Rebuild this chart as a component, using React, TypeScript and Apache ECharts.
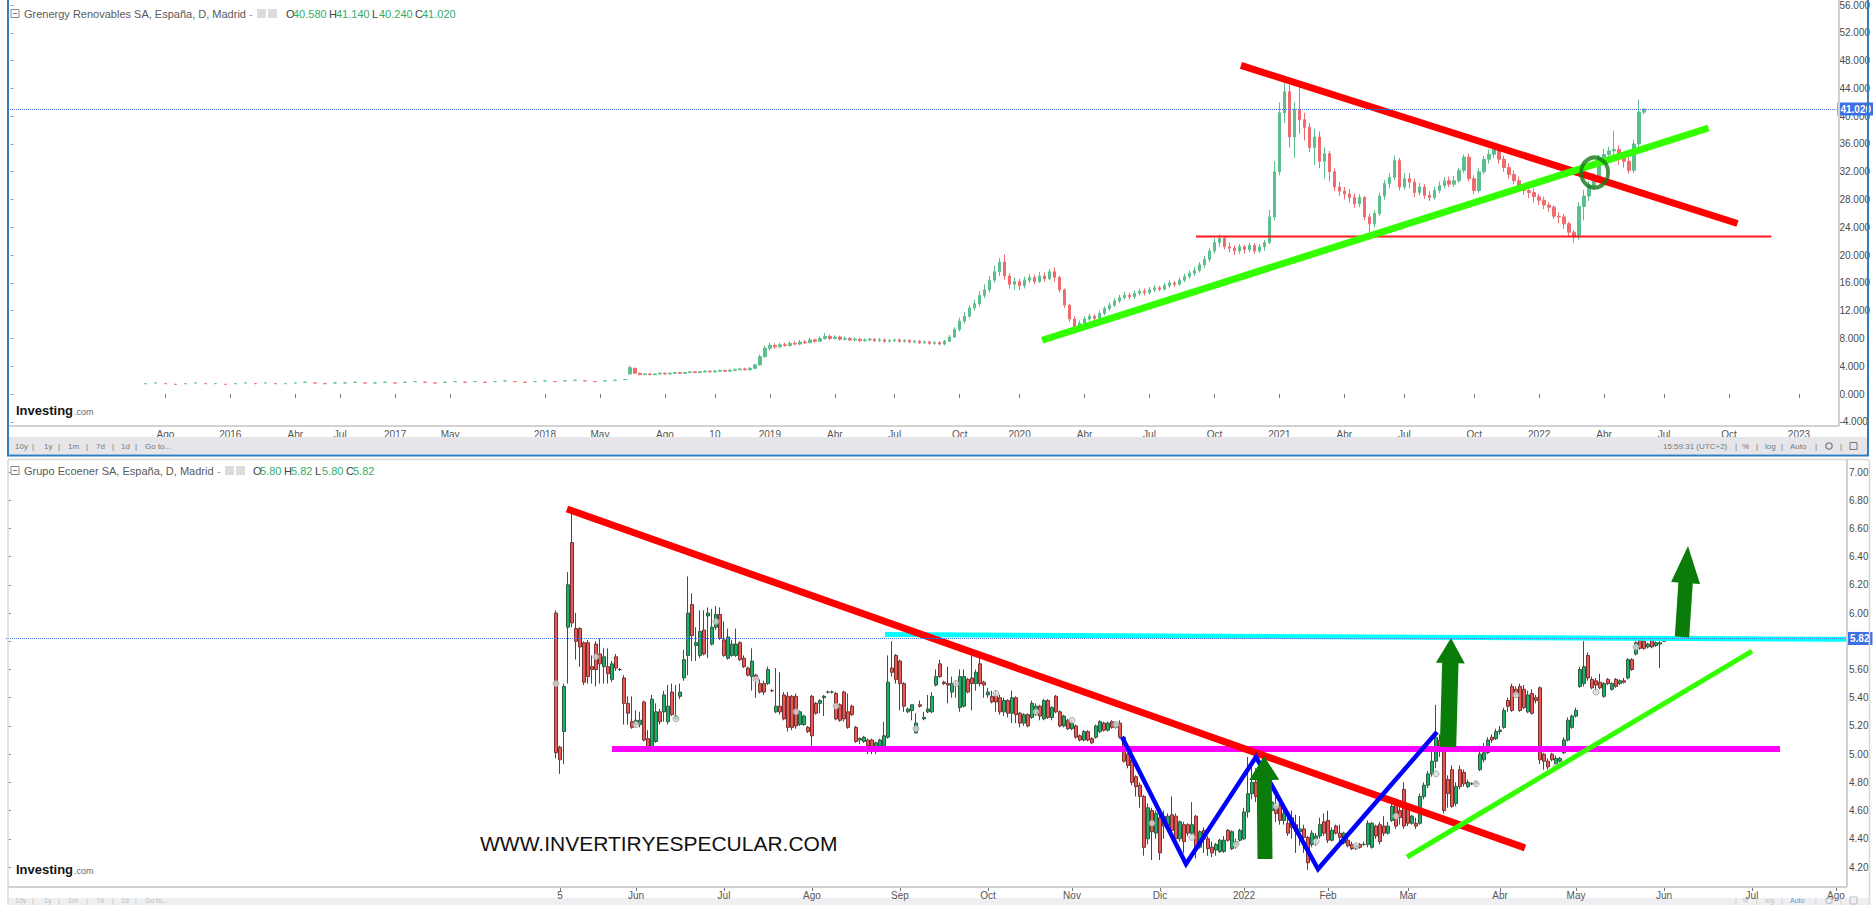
import React, { useEffect, useRef } from 'react';
import * as echarts from 'echarts';

const FONT = "'Liberation Sans', Arial, Helvetica, sans-serif";

// ================= TOP PANEL : Grenergy Renovables (weekly slots) =================
const topSlotCount = 366;
const topTicks: [number, string][] = [
  [31, 'Ago'], [44, '2016'], [57, 'Abr'], [66, 'Jul'], [77, '2017'], [88, 'May'], [107, '2018'], [118, 'May'],
  [131, 'Ago'], [141, '10'], [152, '2019'], [165, 'Abr'], [177, 'Jul'], [190, 'Oct'], [202, '2020'], [215, 'Abr'],
  [228, 'Jul'], [241, 'Oct'], [254, '2021'], [267, 'Abr'], [279, 'Jul'], [293, 'Oct'], [306, '2022'], [319, 'Abr'],
  [331, 'Jul'], [344, 'Oct'], [358, '2023'],
];
// sparse early quotes [slot, price]
const topEarly: [number, number][] = [
  [27, 1.5], [29, 1.6], [31, 1.5], [33, 1.4], [35, 1.5], [37, 1.6], [39, 1.5], [41, 1.5], [43, 1.4], [45, 1.5],
  [47, 1.6], [49, 1.5], [51, 1.6], [53, 1.5], [55, 1.5], [57, 1.6], [59, 1.7], [61, 1.6], [63, 1.5], [65, 1.6],
  [67, 1.6], [69, 1.7], [71, 1.6], [73, 1.6], [75, 1.7], [77, 1.6], [79, 1.7], [81, 1.8], [83, 1.7], [85, 1.6],
  [87, 1.7], [89, 1.8], [91, 1.7], [93, 1.8], [95, 1.7], [97, 1.8], [99, 1.9], [101, 1.8], [103, 1.7], [105, 1.8],
  [107, 1.9], [109, 1.8], [111, 1.9], [113, 2.0], [115, 1.9], [117, 1.8], [119, 1.9], [121, 2.0], [123, 2.1],
];
const topWeeklyStart = 124;
// [open, close, low, high]
const topWeekly: number[][] = [
  [2.9, 3.8, 2.8, 4.1], [3.7, 3.0, 2.9, 3.8], [3.0, 2.8, 2.7, 3.1], [2.8, 2.9, 2.7, 3.0], [2.9, 2.8, 2.7, 3.0],
  [2.8, 2.9, 2.7, 3.0], [2.9, 3.0, 2.8, 3.1], [3.0, 2.9, 2.8, 3.1], [2.9, 3.0, 2.8, 3.1], [3.0, 3.1, 2.9, 3.2],
  [3.1, 3.0, 2.9, 3.2], [3.0, 3.1, 2.9, 3.2], [3.1, 3.2, 3.0, 3.3], [3.2, 3.1, 3.0, 3.3], [3.1, 3.2, 3.0, 3.3],
  [3.2, 3.3, 3.1, 3.4], [3.3, 3.2, 3.1, 3.4], [3.2, 3.3, 3.1, 3.5], [3.3, 3.4, 3.2, 3.5], [3.4, 3.3, 3.2, 3.5],
  [3.3, 3.4, 3.2, 3.6], [3.4, 3.5, 3.3, 3.7], [3.5, 3.6, 3.4, 3.8], [3.6, 3.5, 3.4, 3.8], [3.5, 3.7, 3.4, 3.9],
  [3.7, 4.2, 3.6, 4.4], [4.2, 5.4, 4.1, 5.7], [5.4, 6.6, 5.2, 7.0], [6.6, 7.0, 6.3, 7.4], [7.0, 6.8, 6.5, 7.3],
  [6.8, 7.1, 6.6, 7.4], [7.1, 7.0, 6.8, 7.4], [7.0, 7.3, 6.8, 7.6], [7.3, 7.2, 7.0, 7.6], [7.2, 7.5, 7.0, 7.8],
  [7.5, 7.4, 7.2, 7.8], [7.4, 7.8, 7.3, 8.1], [7.8, 7.6, 7.4, 8.0], [7.6, 8.0, 7.5, 8.3], [8.0, 8.3, 7.8, 8.8],
  [8.3, 8.0, 7.8, 8.6], [8.0, 8.2, 7.9, 8.5], [8.2, 7.9, 7.7, 8.4], [7.9, 8.0, 7.7, 8.3], [8.0, 7.8, 7.6, 8.2],
  [7.8, 7.9, 7.6, 8.2], [7.9, 7.7, 7.5, 8.1], [7.7, 7.8, 7.5, 8.0], [7.8, 7.9, 7.6, 8.1], [7.9, 7.7, 7.5, 8.0],
  [7.7, 7.8, 7.5, 8.1], [7.8, 7.6, 7.4, 8.0], [7.6, 7.7, 7.4, 7.9], [7.7, 7.8, 7.5, 8.0], [7.8, 7.6, 7.4, 8.0],
  [7.6, 7.7, 7.4, 7.9], [7.7, 7.5, 7.3, 7.9], [7.5, 7.6, 7.3, 7.8], [7.6, 7.4, 7.2, 7.8], [7.4, 7.5, 7.2, 7.7],
  [7.5, 7.3, 7.1, 7.7], [7.3, 7.4, 7.1, 7.6], [7.4, 7.2, 7.0, 7.6], [7.2, 7.6, 7.0, 7.8], [7.6, 8.2, 7.5, 8.5],
  [8.2, 9.3, 8.1, 9.6], [9.3, 10.5, 9.0, 11.0], [10.5, 11.2, 10.2, 11.8], [11.2, 12.4, 11.0, 12.8], [12.4, 13.0, 12.0, 13.6],
  [13.0, 14.2, 12.6, 14.8], [14.2, 15.0, 13.8, 15.8], [15.0, 16.4, 14.6, 17.0], [16.4, 17.6, 16.0, 18.5], [17.6, 19.0, 17.0, 19.6],
  [19.0, 17.0, 16.5, 20.1], [17.0, 15.8, 15.2, 17.4], [15.8, 16.2, 15.0, 16.8], [16.2, 15.6, 15.0, 16.6], [15.6, 16.4, 15.2, 16.9],
  [16.4, 16.8, 16.0, 17.3], [16.8, 16.2, 15.8, 17.2], [16.2, 17.0, 16.0, 17.6], [17.0, 16.6, 16.2, 17.5], [16.6, 17.6, 16.4, 18.0],
  [17.6, 16.8, 16.2, 18.2], [16.8, 15.0, 14.6, 17.0], [15.0, 12.8, 12.4, 15.2], [12.8, 10.8, 10.4, 13.0], [10.8, 9.6, 9.2, 11.2],
  [9.6, 10.2, 9.2, 10.6], [10.2, 10.8, 9.8, 11.2], [10.8, 11.2, 10.5, 11.6], [11.2, 10.9, 10.6, 11.5], [10.9, 11.6, 10.7, 12.0],
  [11.6, 12.3, 11.3, 12.6], [12.3, 12.8, 12.0, 13.2], [12.8, 13.4, 12.5, 13.8], [13.4, 13.9, 13.1, 14.3], [13.9, 14.2, 13.6, 14.7],
  [14.2, 14.0, 13.6, 14.6], [14.0, 14.5, 13.7, 14.9], [14.5, 14.8, 14.2, 15.2], [14.8, 14.6, 14.2, 15.2], [14.6, 15.0, 14.3, 15.4],
  [15.0, 15.3, 14.7, 15.7], [15.3, 15.1, 14.8, 15.6], [15.1, 15.6, 14.9, 16.0], [15.6, 16.0, 15.3, 16.4], [16.0, 15.8, 15.4, 16.3],
  [15.8, 16.4, 15.6, 16.8], [16.4, 16.9, 16.1, 17.3], [16.9, 17.4, 16.6, 17.8], [17.4, 17.8, 17.0, 18.3], [17.8, 18.6, 17.5, 19.0],
  [18.6, 19.4, 18.2, 19.9], [19.4, 20.6, 19.0, 21.0], [20.6, 21.8, 20.2, 22.4], [21.8, 22.4, 21.2, 23.0], [22.4, 21.2, 20.8, 22.8],
  [21.2, 21.0, 20.4, 21.8], [21.0, 20.6, 20.0, 21.4], [20.6, 21.2, 20.2, 21.6], [21.2, 20.8, 20.2, 21.5], [20.8, 21.4, 20.4, 21.8],
  [21.4, 20.6, 20.2, 21.7], [20.6, 21.2, 20.3, 21.6], [21.2, 21.8, 20.6, 22.2], [21.8, 25.5, 21.6, 26.5], [25.5, 32.0, 25.0, 33.5],
  [32.0, 40.5, 31.5, 42.0], [40.5, 43.5, 39.0, 45.6], [43.5, 37.0, 35.5, 44.5], [37.0, 41.0, 34.0, 42.0], [41.0, 39.5, 37.5, 44.9],
  [39.5, 38.4, 36.5, 40.5], [38.4, 35.5, 34.8, 39.0], [35.5, 37.0, 33.0, 38.2], [37.0, 33.5, 32.5, 37.8], [33.5, 34.6, 31.0, 35.5],
  [34.6, 32.0, 30.6, 35.0], [32.0, 29.8, 29.2, 32.5], [29.8, 29.2, 28.5, 30.5], [29.2, 28.8, 28.0, 29.8], [28.8, 28.3, 27.6, 29.5],
  [28.3, 27.4, 26.8, 28.9], [27.4, 28.3, 26.9, 28.8], [28.3, 25.5, 25.0, 28.5], [25.5, 24.5, 23.2, 26.0], [24.5, 26.0, 24.0, 26.5],
  [26.0, 28.5, 25.6, 29.0], [28.5, 30.3, 28.0, 30.8], [30.3, 31.2, 29.6, 31.8], [31.2, 33.6, 30.8, 34.3], [33.6, 29.8, 29.3, 34.0],
  [29.8, 31.0, 29.4, 31.8], [31.0, 30.5, 29.6, 31.8], [30.5, 29.0, 28.4, 31.0], [29.0, 29.8, 28.6, 30.4], [29.8, 28.6, 28.1, 30.2],
  [28.6, 28.3, 27.8, 29.2], [28.3, 29.3, 28.0, 29.8], [29.3, 30.0, 28.9, 30.6], [30.0, 30.7, 29.6, 31.2], [30.7, 30.2, 29.8, 31.3],
  [30.2, 30.7, 29.8, 31.4], [30.7, 32.2, 30.4, 32.6], [32.2, 34.1, 31.8, 34.5], [34.1, 31.0, 30.6, 34.6], [31.0, 29.3, 28.8, 31.5],
  [29.3, 32.0, 29.0, 32.5], [32.0, 33.8, 31.6, 34.3], [33.8, 34.5, 33.2, 35.2], [34.5, 35.5, 34.0, 36.0], [35.5, 33.8, 33.2, 36.0],
  [33.8, 32.6, 32.0, 34.3], [32.6, 31.6, 31.0, 33.2], [31.6, 30.7, 30.2, 32.2], [30.7, 29.8, 29.2, 31.3], [29.8, 29.3, 28.7, 30.2],
  [29.3, 29.0, 28.2, 29.8], [29.0, 28.4, 27.6, 29.6], [28.4, 27.9, 27.2, 28.8], [27.9, 27.2, 26.6, 28.4], [27.2, 26.9, 26.2, 27.6],
  [26.9, 25.6, 25.2, 27.2], [25.6, 25.5, 24.6, 26.2], [25.5, 24.5, 23.8, 25.9], [24.5, 23.3, 22.8, 24.8], [23.3, 22.6, 21.8, 23.6],
  [22.6, 27.0, 22.2, 27.6], [27.0, 28.5, 25.0, 29.4], [28.5, 30.0, 27.8, 30.6], [30.0, 31.2, 29.4, 31.8], [31.2, 34.0, 30.6, 34.4],
  [34.0, 34.5, 33.2, 35.3], [34.5, 35.0, 33.8, 35.6], [35.0, 35.2, 34.0, 37.9], [35.2, 34.0, 33.0, 35.8], [34.0, 33.5, 32.6, 34.6],
  [33.5, 32.2, 31.7, 34.2], [32.2, 36.0, 31.8, 36.6], [36.0, 40.6, 35.6, 42.4], [40.58, 41.02, 40.24, 41.14],
];
const topLast = { o: 40.58, h: 41.14, l: 40.24, c: 41.02 };
// drawn annotations, in [slot, price]
const topRedTrend = [[246.3, 47.3], [345.7, 24.55]];
const topGreenTrend = [[206.5, 7.75], [339.9, 38.3]];
const topSupport = [[237.3, 22.69], [352.5, 22.69]];
const topCircle = [[317.1, 31.88]];

// ================= BOTTOM PANEL : Grupo Ecoener (daily slots) =================
const botSlotCount = 460;
const botTicks: [number, string][] = [
  [138, '5'], [157, 'Jun'], [179, 'Jul'], [201, 'Ago'], [223, 'Sep'], [245, 'Oct'], [266, 'Nov'], [288, 'Dic'],
  [309, '2022'], [330, 'Feb'], [350, 'Mar'], [373, 'Abr'], [392, 'May'], [414, 'Jun'], [436, 'Jul'], [457, 'Ago'],
];
const botStart = 137;
// [open, close, low, high]
const botCandles: number[][] = [
  [6.00, 5.01, 4.97, 6.02], [5.05, 4.96, 4.86, 5.06], [5.16, 5.48, 4.93, 5.50], [5.90, 6.20, 5.50, 6.29], [6.50, 5.93, 5.90, 6.75],
  [5.89, 5.80, 5.67, 6.00], [5.89, 5.76, 5.62, 5.90], [5.79, 5.51, 5.49, 5.80], [5.79, 5.55, 5.50, 5.81], [5.62, 5.60, 5.50, 5.70],
  [5.78, 5.60, 5.48, 5.80], [5.71, 5.64, 5.50, 5.82], [5.62, 5.69, 5.50, 5.75], [5.62, 5.57, 5.50, 5.75], [5.53, 5.64, 5.51, 5.66],
  [5.69, 5.61, 5.59, 5.71], [5.60, 5.60, 5.59, 5.61], [5.54, 5.36, 5.21, 5.56], [5.36, 5.29, 5.21, 5.41], [5.23, 5.19, 5.18, 5.41],
  [5.21, 5.24, 5.19, 5.31], [5.21, 5.24, 5.19, 5.30], [5.37, 5.10, 5.09, 5.38], [5.11, 5.05, 5.04, 5.17], [5.05, 5.39, 5.04, 5.42],
  [5.09, 5.30, 5.08, 5.36], [5.30, 5.23, 5.21, 5.32], [5.30, 5.42, 5.23, 5.45], [5.23, 5.34, 5.21, 5.49], [5.44, 5.28, 5.27, 5.50],
  [5.25, 5.27, 5.24, 5.49], [5.41, 5.44, 5.39, 5.50], [5.54, 5.67, 5.52, 5.74], [5.70, 6.00, 5.56, 6.26], [6.06, 5.84, 5.66, 6.14],
  [5.77, 5.79, 5.66, 5.90], [5.70, 5.87, 5.68, 6.02], [5.88, 5.71, 5.70, 6.02], [5.98, 6.00, 5.68, 6.04], [5.78, 5.90, 5.77, 6.03],
  [5.90, 5.99, 5.88, 6.05], [5.99, 5.82, 5.81, 6.04], [5.81, 5.70, 5.69, 5.94], [5.68, 5.83, 5.67, 5.89], [5.70, 5.78, 5.69, 5.81],
  [5.70, 5.78, 5.69, 5.89], [5.79, 5.67, 5.66, 5.80], [5.68, 5.62, 5.61, 5.70], [5.61, 5.56, 5.55, 5.62], [5.55, 5.66, 5.45, 5.75],
  [5.56, 5.53, 5.40, 5.57], [5.50, 5.44, 5.43, 5.53], [5.50, 5.44, 5.42, 5.52], [5.50, 5.60, 5.49, 5.62], [5.45, 5.45, 5.44, 5.46],
  [5.30, 5.34, 5.29, 5.61], [5.34, 5.30, 5.28, 5.58], [5.42, 5.25, 5.24, 5.44], [5.41, 5.19, 5.16, 5.44], [5.41, 5.19, 5.17, 5.42],
  [5.41, 5.20, 5.18, 5.43], [5.21, 5.30, 5.20, 5.31], [5.21, 5.27, 5.20, 5.28], [5.19, 5.16, 5.15, 5.20], [5.41, 5.13, 5.02, 5.42],
  [5.36, 5.29, 5.28, 5.37], [5.36, 5.38, 5.29, 5.39], [5.40, 5.41, 5.27, 5.42], [5.44, 5.44, 5.43, 5.45], [5.44, 5.44, 5.43, 5.45],
  [5.43, 5.25, 5.24, 5.44], [5.35, 5.24, 5.23, 5.36], [5.44, 5.25, 5.23, 5.45], [5.30, 5.19, 5.18, 5.43], [5.34, 5.28, 5.27, 5.35],
  [5.19, 5.09, 5.08, 5.20], [5.10, 5.11, 5.07, 5.12], [5.09, 5.12, 5.08, 5.13], [5.10, 5.06, 5.00, 5.11], [5.10, 5.04, 5.00, 5.11],
  [5.04, 5.08, 5.00, 5.09], [5.06, 5.10, 5.05, 5.11], [5.06, 5.13, 5.05, 5.23], [5.12, 5.51, 5.11, 5.70], [5.61, 5.58, 5.55, 5.80],
  [5.70, 5.53, 5.50, 5.71], [5.66, 5.50, 5.31, 5.67], [5.50, 5.34, 5.30, 5.51], [5.30, 5.32, 5.29, 5.33], [5.31, 5.35, 5.24, 5.35],
  [5.15, 5.22, 5.15, 5.29], [5.35, 5.34, 5.33, 5.38], [5.25, 5.26, 5.24, 5.30], [5.30, 5.32, 5.29, 5.42], [5.30, 5.41, 5.29, 5.44],
  [5.49, 5.55, 5.48, 5.60], [5.64, 5.55, 5.54, 5.67], [5.51, 5.50, 5.49, 5.52], [5.50, 5.49, 5.36, 5.62], [5.44, 5.50, 5.40, 5.55],
  [5.50, 5.50, 5.40, 5.52], [5.33, 5.55, 5.30, 5.60], [5.34, 5.55, 5.33, 5.60], [5.53, 5.44, 5.43, 5.54], [5.54, 5.50, 5.31, 5.70],
  [5.50, 5.58, 5.45, 5.60], [5.64, 5.50, 5.48, 5.69], [5.51, 5.49, 5.40, 5.52], [5.42, 5.44, 5.40, 5.47], [5.41, 5.37, 5.36, 5.45],
  [5.41, 5.37, 5.30, 5.45], [5.40, 5.30, 5.28, 5.42], [5.30, 5.38, 5.27, 5.40], [5.38, 5.29, 5.26, 5.39], [5.29, 5.40, 5.22, 5.45],
  [5.40, 5.28, 5.22, 5.41], [5.29, 5.22, 5.19, 5.30], [5.22, 5.28, 5.20, 5.29], [5.28, 5.20, 5.19, 5.29], [5.26, 5.36, 5.25, 5.38],
  [5.28, 5.34, 5.27, 5.36], [5.34, 5.27, 5.24, 5.35], [5.25, 5.38, 5.24, 5.39], [5.38, 5.26, 5.25, 5.39], [5.26, 5.33, 5.24, 5.34],
  [5.41, 5.30, 5.29, 5.42], [5.30, 5.20, 5.19, 5.31], [5.20, 5.27, 5.19, 5.28], [5.24, 5.18, 5.17, 5.25], [5.18, 5.22, 5.17, 5.24],
  [5.20, 5.12, 5.11, 5.21], [5.13, 5.10, 5.09, 5.14], [5.10, 5.16, 5.09, 5.17], [5.16, 5.10, 5.09, 5.17], [5.11, 5.08, 5.07, 5.12],
  [5.12, 5.20, 5.11, 5.21], [5.16, 5.23, 5.15, 5.24], [5.22, 5.17, 5.16, 5.23], [5.17, 5.22, 5.16, 5.23], [5.23, 5.19, 5.18, 5.24],
  [5.19, 5.22, 5.18, 5.23], [5.22, 5.12, 5.11, 5.24], [5.12, 4.95, 4.94, 5.13], [5.00, 4.92, 4.90, 5.01], [4.96, 4.80, 4.78, 4.97],
  [4.84, 4.77, 4.70, 4.85], [4.78, 4.70, 4.62, 4.80], [4.70, 4.34, 4.28, 4.71], [4.40, 4.62, 4.36, 4.65], [4.60, 4.45, 4.25, 4.62],
  [4.44, 4.58, 4.40, 4.60], [4.55, 4.30, 4.25, 4.58], [4.56, 4.49, 4.40, 4.60], [4.49, 4.56, 4.45, 4.58], [4.57, 4.46, 4.44, 4.70],
  [4.56, 4.40, 4.38, 4.58], [4.40, 4.52, 4.38, 4.53], [4.50, 4.38, 4.30, 4.52], [4.50, 4.44, 4.42, 4.51], [4.44, 4.50, 4.43, 4.66],
  [4.56, 4.34, 4.26, 4.57], [4.34, 4.45, 4.33, 4.46], [4.46, 4.40, 4.30, 4.48], [4.40, 4.33, 4.28, 4.42], [4.34, 4.30, 4.27, 4.38],
  [4.32, 4.36, 4.28, 4.37], [4.31, 4.39, 4.30, 4.40], [4.31, 4.39, 4.30, 4.42], [4.46, 4.39, 4.38, 4.47], [4.33, 4.45, 4.32, 4.46],
  [4.36, 4.38, 4.33, 4.40], [4.39, 4.46, 4.38, 4.47], [4.40, 4.59, 4.39, 4.62], [4.59, 4.72, 4.55, 4.98], [4.72, 4.80, 4.68, 4.95],
  [4.80, 4.70, 4.66, 4.90], [4.70, 4.78, 4.65, 4.85], [4.78, 4.66, 4.62, 4.80], [4.66, 4.60, 4.55, 4.72], [4.60, 4.66, 4.55, 4.70],
  [4.63, 4.58, 4.52, 4.70], [4.63, 4.53, 4.50, 4.65], [4.53, 4.58, 4.50, 4.62], [4.51, 4.44, 4.42, 4.55], [4.55, 4.48, 4.40, 4.60],
  [4.50, 4.45, 4.30, 4.57], [4.45, 4.47, 4.35, 4.56], [4.47, 4.41, 4.30, 4.50], [4.41, 4.23, 4.18, 4.42], [4.36, 4.44, 4.34, 4.46],
  [4.40, 4.42, 4.35, 4.44], [4.42, 4.50, 4.40, 4.55], [4.52, 4.44, 4.42, 4.58], [4.53, 4.39, 4.37, 4.60], [4.39, 4.46, 4.38, 4.48],
  [4.49, 4.44, 4.43, 4.50], [4.44, 4.41, 4.36, 4.50], [4.37, 4.44, 4.36, 4.45], [4.39, 4.35, 4.34, 4.41], [4.36, 4.33, 4.32, 4.38],
  [4.33, 4.35, 4.32, 4.36], [4.36, 4.34, 4.33, 4.37], [4.36, 4.36, 4.35, 4.38], [4.36, 4.51, 4.34, 4.53], [4.34, 4.51, 4.33, 4.52],
  [4.49, 4.42, 4.40, 4.50], [4.50, 4.38, 4.36, 4.52], [4.49, 4.44, 4.42, 4.56], [4.44, 4.49, 4.43, 4.52], [4.53, 4.63, 4.52, 4.65],
  [4.65, 4.49, 4.47, 4.68], [4.60, 4.55, 4.50, 4.66], [4.75, 4.49, 4.47, 4.80], [4.62, 4.51, 4.49, 4.64], [4.51, 4.56, 4.50, 4.57],
  [4.51, 4.49, 4.47, 4.55], [4.51, 4.70, 4.50, 4.72], [4.70, 4.78, 4.68, 4.80], [4.78, 4.86, 4.76, 4.88], [4.86, 4.95, 4.84, 5.05],
  [4.95, 5.12, 4.90, 5.35], [5.10, 5.03, 4.98, 5.14], [5.03, 4.60, 4.58, 5.06], [4.82, 4.72, 4.62, 4.85], [4.89, 4.63, 4.62, 4.92],
  [4.65, 4.77, 4.63, 4.80], [4.89, 4.77, 4.75, 4.92], [4.87, 4.79, 4.77, 4.89], [4.77, 4.80, 4.76, 4.82], [4.79, 4.79, 4.78, 4.80],
  [4.79, 4.80, 4.78, 4.81], [4.89, 5.00, 4.88, 5.06], [4.96, 5.01, 4.94, 5.08], [5.01, 5.10, 5.00, 5.12], [5.12, 5.10, 5.08, 5.14],
  [5.11, 5.16, 5.10, 5.18], [5.16, 5.17, 5.14, 5.20], [5.19, 5.31, 5.18, 5.33], [5.38, 5.34, 5.30, 5.40], [5.48, 5.31, 5.30, 5.50],
  [5.46, 5.42, 5.40, 5.48], [5.48, 5.31, 5.30, 5.50], [5.46, 5.33, 5.32, 5.49], [5.30, 5.42, 5.29, 5.45], [5.43, 5.29, 5.28, 5.46],
  [5.40, 5.38, 5.36, 5.42], [5.47, 4.96, 4.93, 5.48], [5.00, 4.95, 4.89, 5.01], [4.95, 4.91, 4.89, 4.97], [5.00, 4.96, 4.95, 5.01],
  [4.93, 4.97, 4.92, 4.99], [4.95, 4.97, 4.94, 4.98], [5.01, 5.10, 5.00, 5.12], [5.10, 5.24, 5.09, 5.26], [5.19, 5.27, 5.18, 5.28],
  [5.27, 5.31, 5.26, 5.33], [5.48, 5.60, 5.47, 5.62], [5.50, 5.62, 5.48, 5.80], [5.70, 5.54, 5.52, 5.72], [5.53, 5.47, 5.46, 5.55],
  [5.52, 5.49, 5.45, 5.54], [5.51, 5.47, 5.46, 5.57], [5.41, 5.50, 5.40, 5.51], [5.53, 5.50, 5.49, 5.54], [5.46, 5.50, 5.45, 5.51],
  [5.53, 5.48, 5.47, 5.54], [5.50, 5.52, 5.49, 5.53], [5.52, 5.51, 5.50, 5.54], [5.54, 5.67, 5.53, 5.68], [5.67, 5.60, 5.59, 5.68],
  [5.71, 5.79, 5.70, 5.80], [5.81, 5.75, 5.74, 5.82], [5.80, 5.75, 5.74, 5.81], [5.76, 5.78, 5.75, 5.79], [5.81, 5.76, 5.75, 5.82],
  [5.77, 5.79, 5.76, 5.80], [5.78, 5.79, 5.61, 5.80], [5.80, 5.82, 5.80, 5.82],
];
const botLast = { o: 5.80, h: 5.82, l: 5.80, c: 5.82 };
// grey event markers [slot, price]
const botDots: number[][] = [
  [137, 5.50], [147, 5.69], [157, 5.21], [167, 5.25], [177, 5.94], [187, 5.53], [197, 5.30], [207, 5.34], [227, 5.18],
  [237, 5.50], [247, 5.43], [257, 5.30], [266, 5.24], [277, 5.21], [286, 4.51], [296, 4.41], [307, 4.36], [317, 4.63],
  [327, 4.38], [337, 4.35], [347, 4.56], [357, 4.86], [367, 4.79], [377, 5.42], [387, 4.91], [397, 5.44], [407, 5.76],
];
// drawn annotations, in [slot, price]
const botRedTrend = [[139.75, 6.738], [379.25, 4.335]];
const botMagenta = [[151, 5.036], [443, 5.036]];
const botCyan = [[219.25, 5.848], [459.5, 5.814]];
const botBlueW = [[278.5, 5.122], [294.5, 4.221], [312, 4.98], [327.5, 4.186], [357.25, 5.157]];
const botGreenTrend = [[349.75, 4.271], [436, 5.73]];
const botArrows = [[314.25, 4.257, 314, 4.987], [360, 5.051, 360.75, 5.823], [418.5, 5.83, 420, 6.475]];
const arrowShapes = [
  { shaft: 7.5, headW: 15, head: 24 },
  { shaft: 8.2, headW: 14.5, head: 25 },
  { shaft: 7.2, headW: 14.5, head: 37 },
];

function labelMap(ticks: [number, string][]) {
  const m: Record<string, string> = {};
  ticks.forEach(([k, t]) => { m[String(k)] = t; });
  return m;
}

function T(x: number, y: number, text: string, fill: string, font: string, extra: any = {}) {
  return {
    type: 'text', x, y, silent: true, z: 100,
    style: { text, fill, font, textAlign: 'left', textVerticalAlign: 'middle', align: 'left', verticalAlign: 'middle', ...extra },
  };
}
function L(x1: number, y1: number, x2: number, y2: number, stroke: string, lineWidth: number, z = 90) {
  return { type: 'line', silent: true, z, shape: { x1, y1, x2, y2 }, style: { stroke, lineWidth } };
}
function R(x: number, y: number, width: number, height: number, style: any, z = 80) {
  return { type: 'rect', silent: true, z, shape: { x, y, width, height }, style };
}

function headerElems(y: number, name: string, last: { o: number; h: number; l: number; c: number }, dec: number, x0: number, step: number, dashX: number) {
  const f11 = `11px ${FONT}`;
  const els: any[] = [
    R(11, y - 4.5, 8, 8, { fill: '#fff', stroke: '#888', lineWidth: 1 }, 95),
    L(13, y - 0.5, 17, y - 0.5, '#777', 1, 96),
    T(24, y, name, '#5a5a5a', f11),
    T(dashX, y, '-', '#999', f11),
    R(dashX + 8, y - 5, 9, 9, { fill: '#dcdcdc' }, 95),
    R(dashX + 19, y - 5, 9, 9, { fill: '#dcdcdc' }, 95),
  ];
  const parts: [string, number][] = [['O', last.o], ['H', last.h], ['L', last.l], ['C', last.c]];
  parts.forEach(([lab, v], i) => {
    const x = x0 + i * step;
    els.push(T(x, y, lab, '#444', f11));
    els.push(T(x + 7, y, v.toFixed(dec), '#35ad6a', f11));
  });
  return els;
}

function toolbarElems(y: number, color: string, withTime: boolean, size: number) {
  const f = `${size}px ${FONT}`;
  const els: any[] = [];
  const left: [number, string][] = [[15, '10y'], [32, '|'], [44, '1y'], [58, '|'], [68, '1m'], [86, '|'], [96, '7d'], [112, '|'], [121, '1d'], [135, '|'], [145, 'Go to...']];
  left.forEach(([x, t]) => els.push(T(x, y, t, color, f)));
  if (withTime) els.push(T(1663, y, '15:59:31 (UTC+2)', color, f));
  const right: [number, string, string][] = [[1735, '|', color], [1742, '%', color], [1756, '|', color], [1765, 'log', color], [1781, '|', color], [1790, 'Auto', withTime ? color : '#5a9bd8'], [1815, '|', color], [1840, '|', color]];
  right.forEach(([x, t, c]) => els.push(T(x, y, t, c, f)));
  els.push({ type: 'circle', silent: true, z: 100, shape: { cx: 1829, cy: y, r: 3.2 }, style: { fill: 'none', stroke: color, lineWidth: 1.2 } });
  els.push(R(1850, y - 3.5, 7, 7, { fill: 'none', stroke: color, lineWidth: 1 }, 100));
  return els;
}

export default function App() {
  const ref = useRef<HTMLDivElement>(null);

  useEffect(() => {
    document.body.style.margin = '0';
    if (!ref.current) return;
    const chart = echarts.init(ref.current, undefined, { renderer: 'svg' });

    const topCats = Array.from({ length: topSlotCount }, (_, i) => String(i));
    const botCats = Array.from({ length: botSlotCount }, (_, i) => String(i));
    const topMap = labelMap(topTicks);
    const botMap = labelMap(botTicks);
    const topShow = (i: number) => topMap[String(i)] !== undefined;
    const botShow = (i: number) => botMap[String(i)] !== undefined;

    const topData = [
      ...topEarly.map(([k, p]) => [k, p, p, p, p]),
      ...topWeekly.map((c, i) => [topWeeklyStart + i, c[0], c[1], c[2], c[3]]),
    ];
    const botData = botCandles.map((c, i) => [botStart + i, c[0], c[1], c[2], c[3]]);

    const annLine = (data: number[][], color: string, width: number, xi: number, yi: number, z: number, join = 'round') => ({
      type: 'line', data, xAxisIndex: xi, yAxisIndex: yi, symbol: 'none', clip: false, silent: true, z,
      lineStyle: { color, width, cap: 'butt', join }, emphasis: { disabled: true },
    });

    const xCat = (gridIndex: number, data: string[], map: Record<string, string>, show: (i: number) => boolean, offset: number, margin: number) => ({
      type: 'category', gridIndex, data, boundaryGap: true, offset, z: 20,
      axisLine: { show: false },
      axisTick: { show: true, alignWithLabel: true, interval: (i: number) => show(i), length: 4, lineStyle: { color: '#777' } },
      axisLabel: { interval: (i: number) => show(i), formatter: (v: string) => map[v] || '', color: '#555', fontSize: 10, margin, fontFamily: FONT },
      splitLine: { show: false },
    });

    const priceTag = (val: number, text: string) => ({
      silent: true, symbol: 'none', animation: false, z: 30,
      lineStyle: { type: 'dotted', color: '#4a72e0', width: 1 },
      label: { show: true, position: 'end', formatter: text, color: '#fff', backgroundColor: '#3d6ee2', padding: [2, 3, 1, 3], fontSize: 10, fontWeight: 'bold', fontFamily: FONT, distance: 1 },
      emphasis: { disabled: true },
      data: [{ yAxis: val }],
    });

    const graphicEls: any[] = [
      // top panel axis lines & frame
      L(1839, 0, 1839, 426, '#d2d2d2', 2),
      L(8, 426, 1839, 426, '#d2d2d2', 2),
      R(9, 437, 1858, 17, { fill: '#e6e6ea' }),
      L(8, 0, 8, 456, '#2f7dbf', 2),
      L(1868, 0, 1868, 456, '#2f7dbf', 2),
      L(7, 455.5, 1869, 455.5, '#2f7dbf', 2),
      // bottom panel axis lines & frame
      L(8, 459.5, 1869, 459.5, '#d8d8d8', 1.5),
      L(8, 460, 8, 905, '#d8d8d8', 1.5),
      L(1869.5, 460, 1869.5, 905, '#d8d8d8', 1.5),
      L(1847, 460, 1847, 887, '#d2d2d2', 2),
      L(8, 887, 1847, 887, '#d2d2d2', 2),
      R(9, 898, 1860, 7, { fill: '#efeff2' }, 10),
      ...toolbarElems(900.5, '#bdbdbd', false, 7),
      ...toolbarElems(446, '#777', true, 8),
      ...headerElems(14, 'Grenergy Renovables SA, España, D, Madrid', topLast, 3, 286, 43, 249),
      ...headerElems(471, 'Grupo Ecoener SA, España, D, Madrid', botLast, 2, 253, 31, 217),
      // logos
      T(16, 410, 'Investing', '#141414', `bold 13px ${FONT}`),
      T(74, 412, '.com', '#666', `9px ${FONT}`),
      T(16, 869, 'Investing', '#141414', `bold 13px ${FONT}`),
      T(74, 871, '.com', '#666', `9px ${FONT}`),
      // watermark
      T(480, 843, 'WWW.INVERTIRYESPECULAR.COM', '#111', `21px ${FONT}`),
    ];

    const option: any = {
      animation: false,
      backgroundColor: '#ffffff',
      textStyle: { fontFamily: FONT },
      grid: [
        { left: 8, top: 4.02, width: 1830, height: 417.84 },
        { left: 6, top: 472, width: 1840, height: 395 },
      ],
      xAxis: [
        xCat(0, topCats, topMap, topShow, 4, 4),
        { type: 'value', gridIndex: 0, min: -0.5, max: topSlotCount - 0.5, show: false },
        xCat(1, botCats, botMap, botShow, 20, 3),
        { type: 'value', gridIndex: 1, min: -0.5, max: botSlotCount - 0.5, show: false },
      ],
      yAxis: [
        {
          type: 'value', gridIndex: 0, position: 'right', min: -4, max: 56, interval: 4,
          axisLine: { show: false }, axisTick: { show: true, length: 3, lineStyle: { color: '#999' } },
          axisLabel: { formatter: (v: number) => v.toFixed(3), color: '#4a4a4a', fontSize: 10, margin: 3, fontFamily: FONT },
          splitLine: { show: false },
        },
        {
          type: 'value', gridIndex: 1, position: 'right', min: 4.2, max: 7.0, interval: 0.2,
          axisLine: { show: false }, axisTick: { show: true, length: 3, lineStyle: { color: '#999' } },
          axisLabel: { formatter: (v: number) => v.toFixed(2), color: '#4a4a4a', fontSize: 10, margin: 3, fontFamily: FONT },
          splitLine: { show: false },
        },
      ],
      series: [
        {
          type: 'candlestick', xAxisIndex: 0, yAxisIndex: 0, data: topData,
          dimensions: ['slot', 'open', 'close', 'lowest', 'highest'],
          encode: { x: 0, y: [1, 2, 3, 4] },
          barWidth: 3, clip: false, silent: true, z: 2,
          itemStyle: { color: '#5cc08e', color0: '#ef6b6e', borderColor: '#5cc08e', borderColor0: '#ef6b6e', borderWidth: 1 },
          markLine: priceTag(topLast.c, topLast.c.toFixed(3)),
        },
        annLine(topSupport, '#ff1a1a', 2, 1, 0, 4),
        annLine(topRedTrend, '#ff0000', 7, 1, 0, 5),
        annLine(topGreenTrend, '#33ff00', 7, 1, 0, 6),
        {
          type: 'scatter', xAxisIndex: 1, yAxisIndex: 0, data: topCircle, symbol: 'circle', symbolSize: [27, 30], silent: true, z: 7,
          itemStyle: { color: 'rgba(0,0,0,0)', borderColor: '#177817', borderWidth: 4 },
        },
        {
          type: 'candlestick', xAxisIndex: 2, yAxisIndex: 1, data: botData,
          dimensions: ['slot', 'open', 'close', 'lowest', 'highest'],
          encode: { x: 0, y: [1, 2, 3, 4] },
          barWidth: 3, clip: false, silent: true, z: 2,
          itemStyle: { color: '#17b26a', color0: '#ec5752', borderColor: '#2f5a3e', borderColor0: '#763232', borderWidth: 1 },
          markLine: priceTag(botLast.c, botLast.c.toFixed(2)),
        },
        {
          type: 'scatter', xAxisIndex: 3, yAxisIndex: 1, data: botDots, symbol: 'circle', symbolSize: 6, silent: true, z: 3,
          itemStyle: { color: '#d9d9d9', borderColor: '#9d9d9d', borderWidth: 1 },
        },
        annLine(botMagenta, '#ff00ff', 6, 3, 1, 4),
        annLine(botCyan, '#00ffff', 5, 3, 1, 4),
        annLine(botRedTrend, '#ff0000', 7, 3, 1, 5),
        annLine(botBlueW, '#0000ff', 4.5, 3, 1, 6, 'miter'),
        annLine(botGreenTrend, '#33ff00', 5, 3, 1, 6),
        {
          type: 'custom', xAxisIndex: 3, yAxisIndex: 1, data: botArrows, clip: false, silent: true, z: 8,
          encode: { x: [0, 2], y: [1, 3] },
          renderItem: (params: any, api: any) => {
            const a = api.coord([api.value(0), api.value(1)]);
            const b = api.coord([api.value(2), api.value(3)]);
            const s = arrowShapes[params.dataIndex];
            const dx = b[0] - a[0];
            const dy = b[1] - a[1];
            const len = Math.hypot(dx, dy) || 1;
            const ux = dx / len, uy = dy / len;
            const nx = -uy, ny = ux;
            const hb = [b[0] - ux * s.head, b[1] - uy * s.head];
            const pts = [
              [a[0] + nx * s.shaft, a[1] + ny * s.shaft],
              [hb[0] + nx * s.shaft, hb[1] + ny * s.shaft],
              [hb[0] + nx * s.headW, hb[1] + ny * s.headW],
              [b[0], b[1]],
              [hb[0] - nx * s.headW, hb[1] - ny * s.headW],
              [hb[0] - nx * s.shaft, hb[1] - ny * s.shaft],
              [a[0] - nx * s.shaft, a[1] - ny * s.shaft],
            ];
            return { type: 'polygon', shape: { points: pts }, style: { fill: '#0a7c0a' } };
          },
        },
      ],
      graphic: { elements: graphicEls },
    };

    chart.setOption(option);
    return () => { chart.dispose(); };
  }, []);

  return <div ref={ref} style={{ position: 'absolute', left: 0, top: 0, width: 1873, height: 905, background: '#fff' }} />;
}
